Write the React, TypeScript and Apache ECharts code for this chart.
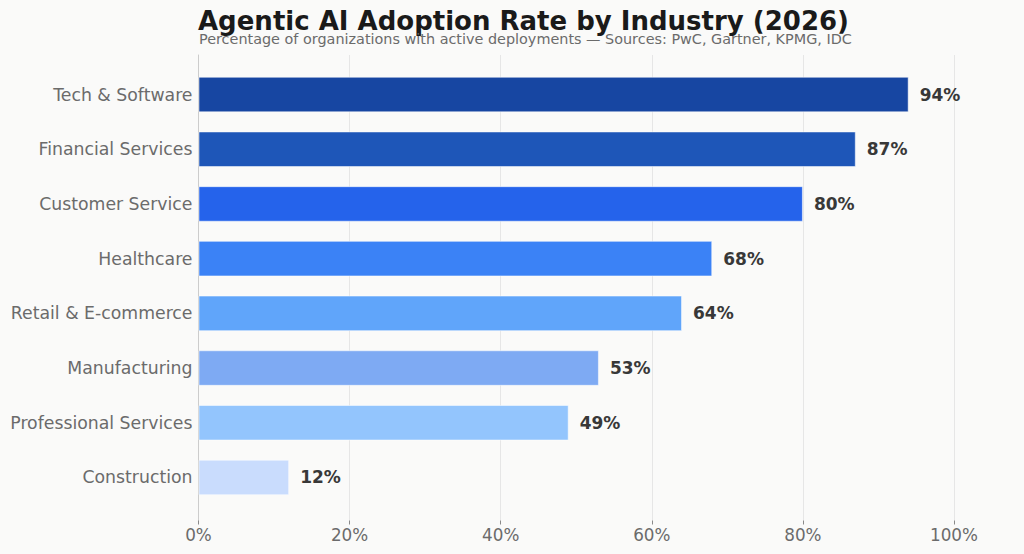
import React, { useEffect, useRef } from "react";
import * as echarts from "echarts";

const categories = [
  "Tech & Software",
  "Financial Services",
  "Customer Service",
  "Healthcare",
  "Retail & E-commerce",
  "Manufacturing",
  "Professional Services",
  "Construction",
];
const values = [94, 87, 80, 68, 64, 53, 49, 12];
const barColors = [
  "#1746a2",
  "#1e56b8",
  "#2563eb",
  "#3b82f6",
  "#60a5fa",
  "#7eaaf3",
  "#93c5fd",
  "#c9dcfd",
];
const xTicks = [0, 20, 40, 60, 80, 100];

const FONT = "DejaVu Sans, Verdana, sans-serif";

export default function App() {
  const ref = useRef<HTMLDivElement>(null);
  useEffect(() => {
    document.body.style.margin = "0";
    const chart = echarts.init(ref.current!, null, { renderer: "svg" });
    const option: any = {
      animation: false,
      backgroundColor: "#fafaf9",
      textStyle: { fontFamily: FONT },
      title: [
        {
          text: "Agentic AI Adoption Rate by Industry (2026)",
          left: 198,
          top: 7.5,
          padding: 0,
          textStyle: { fontFamily: FONT, fontSize: 26, fontWeight: "bold", color: "#1a1a1a" },
        },
        {
          text: "Percentage of organizations with active deployments — Sources: PwC, Gartner, KPMG, IDC",
          left: 199,
          top: 32,
          padding: 0,
          textStyle: { fontFamily: FONT, fontSize: 14.4, fontWeight: "normal", color: "#6b6b6b" },
        },
      ],
      grid: [
        { left: 198.5, width: 755.5, top: 55, height: 465.5 },
        { left: 198.5, width: 755.5, top: 67.2, height: 437.6 },
      ],
      xAxis: [
        {
          gridIndex: 0,
          type: "value",
          min: xTicks[0],
          max: xTicks[xTicks.length - 1],
          interval: 20,
          axisLine: { show: false },
          axisTick: { show: true, length: 4, lineStyle: { color: "#8a8a8a", width: 1 } },
          axisLabel: {
            formatter: (v: number) => v + "%",
            color: "#6b6b6b",
            fontSize: 16.8,
            fontFamily: FONT,
            margin: 6,
          },
          splitLine: { show: true, lineStyle: { color: "#e6e6e6", width: 1 } },
        },
        {
          gridIndex: 1,
          type: "value",
          min: xTicks[0],
          max: xTicks[xTicks.length - 1],
          show: false,
          splitLine: { show: false },
        },
      ],
      yAxis: [
        {
          gridIndex: 0,
          type: "value",
          min: 0,
          max: 1,
          axisLine: { show: true, lineStyle: { color: "#cccccc", width: 1 } },
          axisTick: { show: false },
          axisLabel: { show: false },
          splitLine: { show: false },
        },
        {
          gridIndex: 1,
          type: "category",
          inverse: true,
          data: categories,
          axisLine: { show: false },
          axisTick: { show: false },
          axisLabel: {
            color: "#6b6b6b",
            fontSize: 17.3,
            fontFamily: FONT,
            margin: 6,
          },
        },
      ],
      series: [
        {
          type: "bar",
          xAxisIndex: 1,
          yAxisIndex: 1,
          barWidth: "65%",
          data: values.map((v, i) => ({
            value: v,
            itemStyle: {
              color: barColors[i],
              borderColor: "rgba(255,255,255,0.5)",
              borderWidth: 1,
            },
          })),
          label: {
            show: true,
            position: "right",
            distance: 11,
            formatter: (p: any) => p.value + "%",
            fontFamily: FONT,
            fontSize: 17,
            fontWeight: "bold",
            color: "#383838",
          },
        },
      ],
    };
    chart.setOption(option);
    return () => chart.dispose();
  }, []);
  return <div ref={ref} style={{ width: 1024, height: 554 }} />;
}
